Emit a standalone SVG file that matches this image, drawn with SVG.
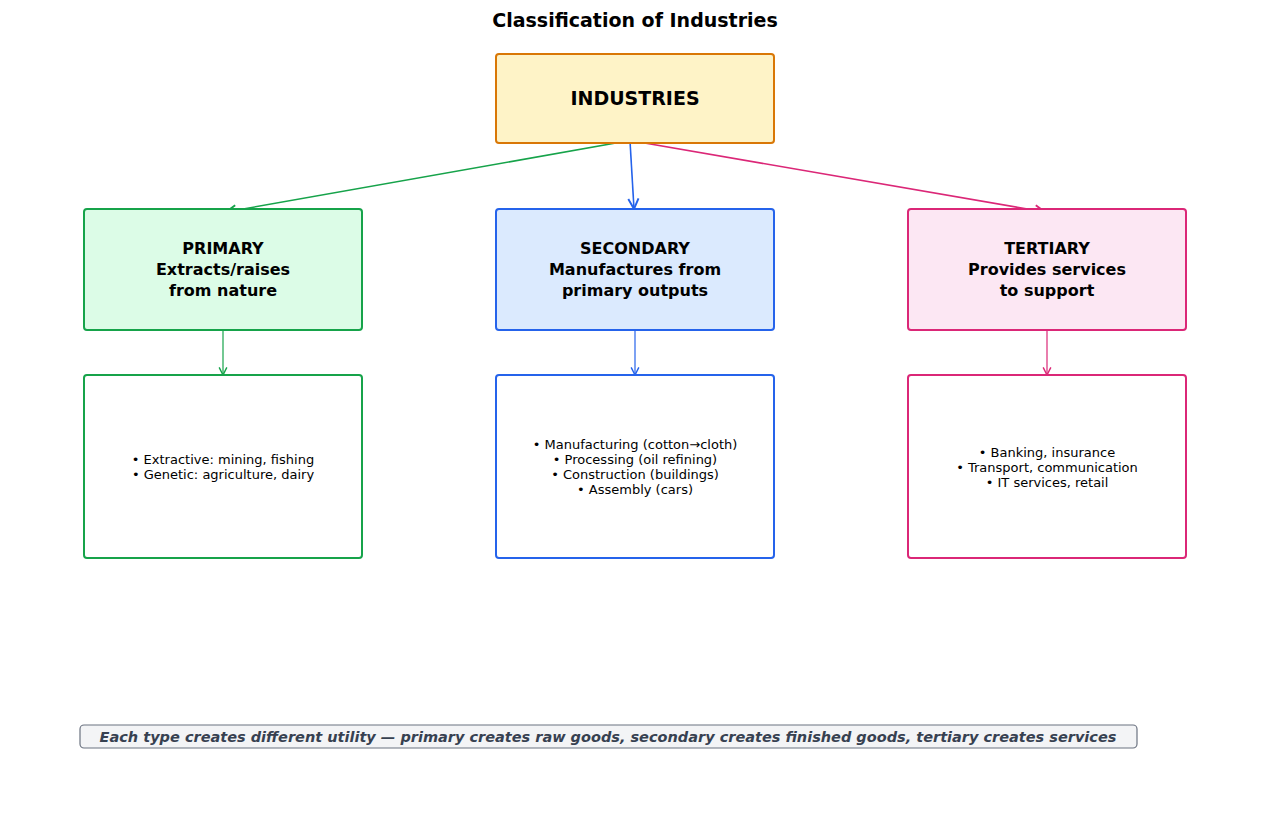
<svg xmlns="http://www.w3.org/2000/svg" width="1270" height="826" viewBox="0 0 1270 826">
<style>
text{font-family:"DejaVu Sans","Noto Sans",sans-serif;text-anchor:middle}
.h{font-weight:bold;font-size:16px}
.b{font-size:13px}
.box{stroke-width:2}
</style>
<defs>
<marker id="ag" viewBox="0 0 10 10" refX="9" refY="5" markerWidth="8" markerHeight="8" orient="auto"><path d="M1,1 L9,5 L1,9" fill="none" stroke="#16a34a" stroke-width="1.5"/></marker>
<marker id="ab" viewBox="0 0 10 10" refX="9" refY="5" markerWidth="8" markerHeight="8" orient="auto"><path d="M1,1 L9,5 L1,9" fill="none" stroke="#2563eb" stroke-width="1.5"/></marker>
<marker id="ap" viewBox="0 0 10 10" refX="9" refY="5" markerWidth="8" markerHeight="8" orient="auto"><path d="M1,1 L9,5 L1,9" fill="none" stroke="#db2777" stroke-width="1.5"/></marker>
</defs>
<rect width="1270" height="826" fill="#fff"/>
<text x="635" y="27" style="font-weight:bold;font-size:19px">Classification of Industries</text>
<g id="connectors" fill="none" stroke-width="1.6">
<line x1="627" y1="141" x2="226" y2="212" stroke="#16a34a" marker-end="url(#ag)"/>
<line x1="630" y1="141" x2="634" y2="209" stroke="#2563eb" marker-end="url(#ab)"/>
<line x1="633" y1="141" x2="1045" y2="212" stroke="#db2777" marker-end="url(#ap)"/>
<line x1="223" y1="330" x2="223" y2="375" stroke="#16a34a" marker-end="url(#ag)" stroke-width="1.2"/>
<line x1="635" y1="330" x2="635" y2="375" stroke="#2563eb" marker-end="url(#ab)" stroke-width="1.2"/>
<line x1="1047" y1="330" x2="1047" y2="375" stroke="#db2777" marker-end="url(#ap)" stroke-width="1.2"/>
</g>
<g id="industries"><rect class="box" x="496" y="54" width="278" height="89" rx="3" fill="#fef3c7" stroke="#d97706"/><text x="635" y="105" style="font-weight:bold;font-size:19px">INDUSTRIES</text></g>
<g id="primary"><rect class="box" x="84" y="209" width="278" height="121" rx="3" fill="#dcfce7" stroke="#16a34a"/><text class="h" x="223" y="254">PRIMARY</text><text class="h" x="223" y="275">Extracts/raises</text><text class="h" x="223" y="296">from nature</text></g>
<g id="secondary"><rect class="box" x="496" y="209" width="278" height="121" rx="3" fill="#dbeafe" stroke="#2563eb"/><text class="h" x="635" y="254">SECONDARY</text><text class="h" x="635" y="275">Manufactures from</text><text class="h" x="635" y="296">primary outputs</text></g>
<g id="tertiary"><rect class="box" x="908" y="209" width="278" height="121" rx="3" fill="#fce7f3" stroke="#db2777"/><text class="h" x="1047" y="254">TERTIARY</text><text class="h" x="1047" y="275">Provides services</text><text class="h" x="1047" y="296">to support</text></g>
<g id="primary-details"><rect class="box" x="84" y="375" width="278" height="183" rx="3" fill="#fff" stroke="#16a34a"/><text class="b" x="223" y="464">• Extractive: mining, fishing</text><text class="b" x="223" y="479">• Genetic: agriculture, dairy</text></g>
<g id="secondary-details"><rect class="box" x="496" y="375" width="278" height="183" rx="3" fill="#fff" stroke="#2563eb"/><text class="b" x="635" y="449">• Manufacturing (cotton→cloth)</text><text class="b" x="635" y="464">• Processing (oil refining)</text><text class="b" x="635" y="479">• Construction (buildings)</text><text class="b" x="635" y="494">• Assembly (cars)</text></g>
<g id="tertiary-details"><rect class="box" x="908" y="375" width="278" height="183" rx="3" fill="#fff" stroke="#db2777"/><text class="b" x="1047" y="457">• Banking, insurance</text><text class="b" x="1047" y="472">• Transport, communication</text><text class="b" x="1047" y="487">• IT services, retail</text></g>
<g id="footer"><rect x="80" y="725" width="1057" height="23" rx="4" fill="#f3f4f6" stroke="#6b7280" stroke-width="1.2"/><text x="608" y="742" style="font-weight:bold;font-style:italic;font-size:14.5px;fill:#374151">Each type creates different utility — primary creates raw goods, secondary creates finished goods, tertiary creates services</text></g>
</svg>
